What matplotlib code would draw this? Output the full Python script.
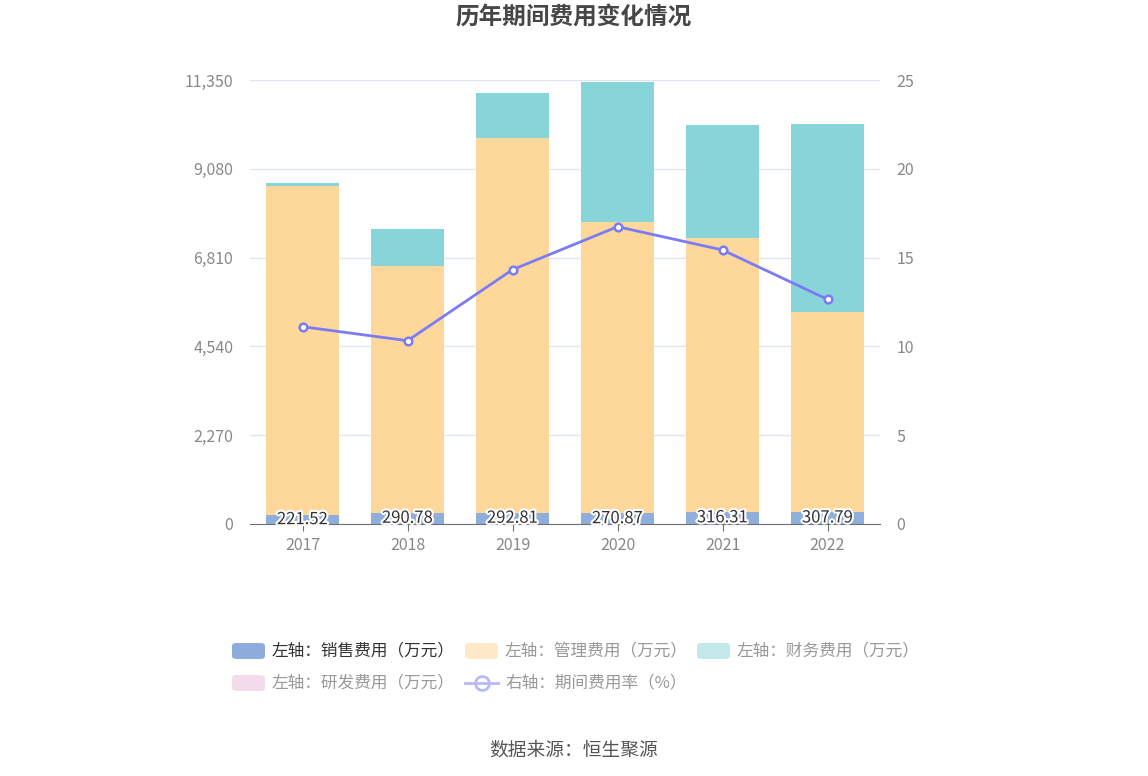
import matplotlib
matplotlib.use("Agg")
import matplotlib.pyplot as plt
import matplotlib.patheffects as pe
from matplotlib.patches import FancyBboxPatch
from matplotlib.lines import Line2D
import numpy as np

plt.rcParams['font.family'] = ['Noto Sans CJK SC', 'DejaVu Sans']

years = ['2017', '2018', '2019', '2020', '2021', '2022']
sales = [221.52, 290.78, 292.81, 270.87, 316.31, 307.79]
manage = [8425, 6303, 9573, 7448, 6987, 5119]
finance = [58, 954, 1143, 3579, 2888, 4790]
rnd = [0, 0, 0, 0, 0, 0]
rate = [11.11, 10.32, 14.32, 16.74, 15.43, 12.65]

left_ticks = [0, 2270, 4540, 6810, 9080, 11350]
right_ticks = [0, 5, 10, 15, 20, 25]

c_sales = '#8FAEDC'
c_manage = '#FED89B'
c_fin = '#88D5D9'
c_rnd = '#F2DAEC'
c_line = '#7B7BF5'

W, H = 1148, 776
fig = plt.figure(figsize=(W / 100, H / 100), dpi=100)
ax = fig.add_axes([250 / W, 1 - 524 / H, 630 / W, 444 / H])
ax2 = ax.twinx()

x = np.arange(len(years))
bw = 0.69
s = np.array(sales)
m = np.array(manage)
f = np.array(finance)
r = np.array(rnd)
ax.bar(x, s, bw, color=c_sales, zorder=2)
ax.bar(x, m, bw, bottom=s, color=c_manage, zorder=2)
ax.bar(x, f, bw, bottom=s + m, color=c_fin, zorder=2)
ax.bar(x, r, bw, bottom=s + m + f, color=c_rnd, zorder=2)

for xi, v in zip(x, sales):
    ax.text(xi, v / 2, f'{v:.2f}', ha='center', va='center', fontsize=12,
            color='#333333', zorder=5,
            path_effects=[pe.withStroke(linewidth=3, foreground='white')])

ax.set_xlim(-0.5, len(years) - 0.5)
ax.set_ylim(0, 11350)
ax.set_yticks(left_ticks)
ax.set_yticklabels([f'{t:,}' for t in left_ticks])
ax.set_xticks(x)
ax.set_xticklabels(years)
ax.grid(axis='y', color='#E0E6F1', linewidth=1, zorder=0)
ax.set_axisbelow(True)
for sp in ['top', 'left', 'right']:
    ax.spines[sp].set_visible(False)
ax.spines['bottom'].set_color('#6E7079')
ax.tick_params(axis='y', length=0, labelsize=11.5, labelcolor='#888888', pad=12)
ax.tick_params(axis='x', length=5, color='#6E7079', labelsize=11.5, labelcolor='#888888', pad=4)

ax2.plot(x, rate, color=c_line, linewidth=2, marker='o', markersize=5.5,
         markerfacecolor='white', markeredgecolor=c_line, markeredgewidth=1.8, zorder=6)
ax2.set_ylim(0, 25)
ax2.set_yticks(right_ticks)
for sp in ['top', 'left', 'right', 'bottom']:
    ax2.spines[sp].set_visible(False)
ax2.tick_params(axis='y', length=0, labelsize=11.5, labelcolor='#888888', pad=12)

fig.text(574 / W, 1 - 18 / H, '历年期间费用变化情况', ha='center', va='center',
         fontsize=17, fontweight='bold', color='#464646')
fig.text(574 / W, 1 - 750 / H, '数据来源：恒生聚源', ha='center', va='center',
         fontsize=13.5, color='#555555')

# legend
items = [
    ('patch', '#8FAADC', '左轴：销售费用（万元）', '#333333', 232, 651),
    ('patch', '#FFE9C9', '左轴：管理费用（万元）', '#999999', 465, 651),
    ('patch', '#C4E9EB', '左轴：财务费用（万元）', '#999999', 697, 651),
    ('patch', '#F3DDED', '左轴：研发费用（万元）', '#999999', 232, 683),
    ('line', '#B9B9F8', '右轴：期间费用率（%）', '#999999', 465, 683),
]
for kind, col, label, tcol, px, py in items:
    if kind == 'patch':
        p = FancyBboxPatch(((px) / W, 1 - (py + 8) / H), 33 / W, 16 / H,
                           boxstyle='round,pad=0,rounding_size=0.004',
                           transform=fig.transFigure, facecolor=col, edgecolor='none')
        fig.patches.append(p)
    else:
        ln = Line2D([px / W, (px + 33) / W], [1 - py / H, 1 - py / H],
                    transform=fig.transFigure, color=col, linewidth=2, zorder=3)
        fig.lines.append(ln)
        mk = Line2D([(px + 16.5) / W], [1 - py / H], transform=fig.transFigure,
                    marker='o', markersize=10, markerfacecolor='white',
                    markeredgecolor=col, markeredgewidth=2, linestyle='none')
        fig.lines.append(mk)
    fig.text((px + 40) / W, 1 - py / H, label, ha='left', va='center',
             fontsize=12, color=tcol)

fig.savefig('out.png', dpi=100, facecolor='white')
